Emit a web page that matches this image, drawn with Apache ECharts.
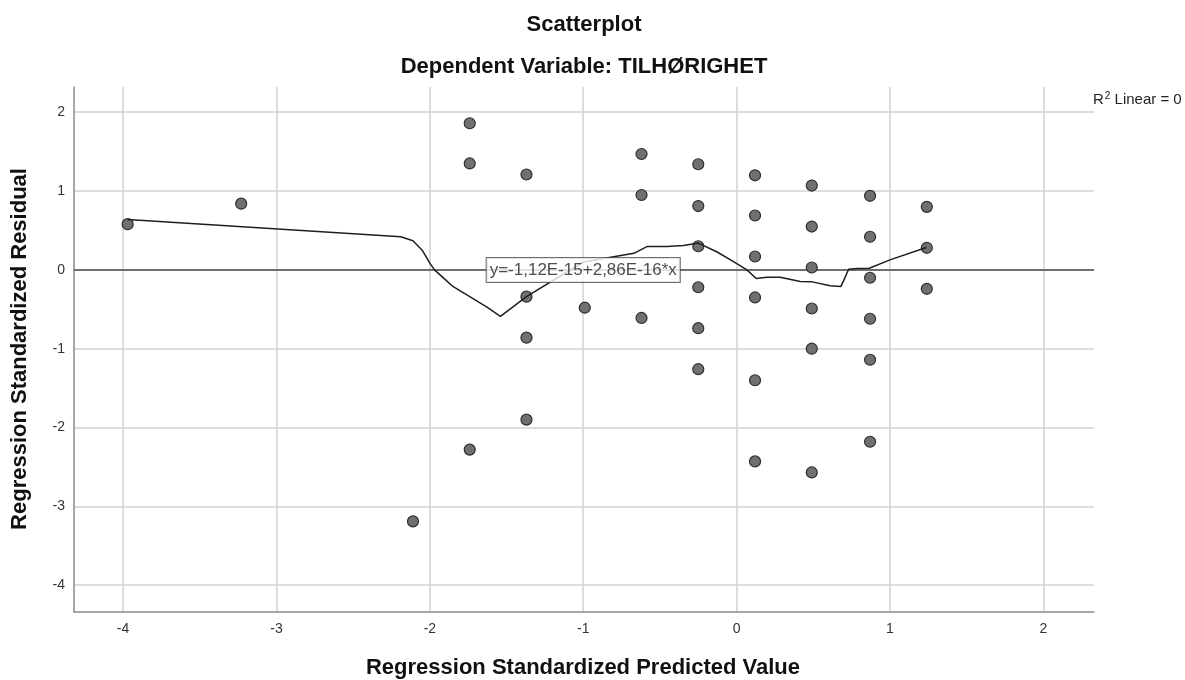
<!DOCTYPE html>
<html><head><meta charset="utf-8">
<script src="https://cdn.jsdelivr.net/npm/echarts@6/dist/echarts.min.js"></script>
<style>html,body{margin:0;padding:0;background:#fff}#c{width:1185px;height:680px}</style>
</head><body><div id="c"></div>
<script>
// Scatter points: Regression Standardized Predicted Value (x) vs Standardized Residual (y)
const predicted = [
  -3.97, -3.23, -2.11,
  -1.74, -1.74, -1.74,
  -1.37, -1.37, -1.37, -1.37,
  -0.99,
  -0.62, -0.62, -0.62,
  -0.25, -0.25, -0.25, -0.25, -0.25, -0.25,
  0.12, 0.12, 0.12, 0.12, 0.12, 0.12,
  0.49, 0.49, 0.49, 0.49, 0.49, 0.49,
  0.87, 0.87, 0.87, 0.87, 0.87, 0.87,
  1.24, 1.24, 1.24
];
const residual = [
  0.58, 0.84, -3.19,
  1.86, 1.35, -2.28,
  1.21, -0.34, -0.86, -1.90,
  -0.48,
  1.47, 0.95, -0.61,
  1.34, 0.81, 0.30, -0.22, -0.74, -1.26,
  1.20, 0.69, 0.17, -0.35, -1.40, -2.43,
  1.07, 0.55, 0.03, -0.49, -1.00, -2.57,
  0.94, 0.42, -0.10, -0.62, -1.14, -2.18,
  0.80, 0.28, -0.24
];
// Loess-like fit curve
const fitX = [-3.97, -2.19, -2.11, -2.05, -2.00, -1.97, -1.91, -1.85, -1.74, -1.63, -1.54, -1.37, -1.00, -0.67, -0.585, -0.455, -0.346, -0.25, -0.13, -0.02, 0.067, 0.128, 0.198, 0.284, 0.415, 0.493, 0.61, 0.68, 0.70, 0.73, 0.785, 0.865, 1.00, 1.237];
const fitY = [0.64, 0.42, 0.37, 0.25, 0.085, 0.0, -0.105, -0.21, -0.34, -0.47, -0.59, -0.34, 0.10, 0.21, 0.296, 0.296, 0.31, 0.34, 0.23, 0.105, 0.0, -0.11, -0.093, -0.093, -0.148, -0.152, -0.20, -0.21, -0.127, 0.008, 0.017, 0.021, 0.127, 0.283];
// Reference line y = 0 and its label
const refY = 0;
const fitLabel = 'y=-1,12E-15+2,86E-16*x';
const fitLabelPos = [-1.0, 0];
const xRange = [-4.32, 2.33];
const yRange = [-4.34, 2.32];
const titleText = 'Scatterplot';
const subtitleText = 'Dependent Variable: TILHØRIGHET';
const xTitle = 'Regression Standardized Predicted Value';
const yTitle = 'Regression Standardized Residual';

const FONT = "'Liberation Sans', Arial, sans-serif";
const chart = echarts.init(document.getElementById('c'), null, {renderer: 'canvas'});
const pts = predicted.map((x, i) => [x, residual[i]]);
const fit = fitX.map((x, i) => [x, fitY[i]]);
const intFmt = v => (Math.abs(v - Math.round(v)) < 1e-6 ? String(Math.round(v)) : '');

chart.setOption({
  backgroundColor: '#ffffff',
  animation: false,
  grid: {left: 74, right: 91, top: 87, bottom: 68, containLabel: false},
  xAxis: {
    type: 'value', min: xRange[0], max: xRange[1], splitNumber: 5,
    axisLine: {show: true, onZero: false, lineStyle: {color: '#8a8a8a', width: 1.5}},
    axisTick: {show: false},
    axisLabel: {color: '#333', fontSize: 14, fontFamily: FONT, margin: 10, formatter: intFmt, showMinLabel: false, showMaxLabel: false},
    splitLine: {show: true, showMinLine: false, showMaxLine: false, lineStyle: {color: '#d2d2d2', width: 1.5}}
  },
  yAxis: {
    type: 'value', min: yRange[0], max: yRange[1], splitNumber: 5,
    axisLine: {show: true, onZero: false, lineStyle: {color: '#8a8a8a', width: 1.5}},
    axisTick: {show: false},
    axisLabel: {color: '#333', fontSize: 14, fontFamily: FONT, margin: 9, formatter: intFmt, showMinLabel: false, showMaxLabel: false},
    splitLine: {show: true, showMinLine: false, showMaxLine: false, lineStyle: {color: '#d2d2d2', width: 1.5}}
  },
  series: [
    {
      type: 'scatter', data: pts, symbolSize: 11, z: 2,
      itemStyle: {color: '#707070', borderColor: '#2e2e2e', borderWidth: 1.2, opacity: 1},
      markLine: {
        silent: true, symbol: ['none', 'none'], z: 1,
        label: {show: false},
        lineStyle: {color: '#4a4a4a', width: 1.5, type: 'solid'},
        data: [{yAxis: refY}]
      }
    },
    {
      type: 'line', data: fit, showSymbol: false, symbol: 'none', z: 3,
      lineStyle: {color: '#1e1e1e', width: 1.5}
    },
    {
      type: 'scatter', data: [fitLabelPos], symbolSize: 0, z: 5, silent: true,
      label: {
        show: true, position: 'inside', formatter: fitLabel,
        fontSize: 17, fontFamily: FONT, color: '#222',
        backgroundColor: '#ffffff', borderColor: '#4a4a4a', borderWidth: 1,
        padding: [4, 3, 3, 3]
      }
    }
  ],
  graphic: [
    {type: 'text', x: 584, y: 25, style: {text: titleText, fontSize: 22, fontWeight: 'bold', fontFamily: FONT, fill: '#111', textAlign: 'center', textVerticalAlign: 'middle'}},
    {type: 'text', x: 584, y: 67, style: {text: subtitleText, fontSize: 22, fontWeight: 'bold', fontFamily: FONT, fill: '#111', textAlign: 'center', textVerticalAlign: 'middle'}},
    {type: 'text', x: 583, y: 668, style: {text: xTitle, fontSize: 22, fontWeight: 'bold', fontFamily: FONT, fill: '#111', textAlign: 'center', textVerticalAlign: 'middle'}},
    {type: 'text', x: 20, y: 349, rotation: Math.PI / 2, style: {text: yTitle, fontSize: 22, fontWeight: 'bold', fontFamily: FONT, fill: '#111', textAlign: 'center', textVerticalAlign: 'middle'}},
    {type: 'text', x: 1093, y: 100, style: {
      text: '{a|R}{s|2}{a| Linear = 0}', textVerticalAlign: 'middle', textAlign: 'left',
      rich: {
        a: {fontSize: 15, fontFamily: FONT, fill: '#222', color: '#222'},
        s: {fontSize: 10, fontFamily: FONT, fill: '#222', color: '#222', verticalAlign: 'top', padding: [0, 0, 8, 1]}
      }
    }}
  ]
});
</script>
</body></html>
